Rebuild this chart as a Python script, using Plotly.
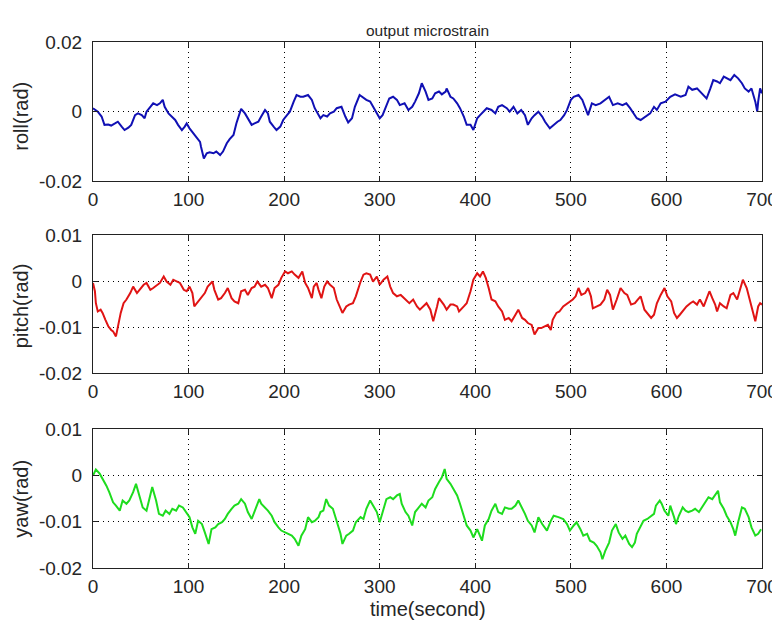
import plotly.graph_objects as go

# ---------------- data ----------------
title_text = "output microstrain"
x_title = "time(second)"
y_titles = ["roll(rad)", "pitch(rad)", "yaw(rad)"]
x_ticks = [0, 100, 200, 300, 400, 500, 600, 700]
y_ticks_roll = [-0.02, 0, 0.02]
y_ticks_other = [-0.02, -0.01, 0, 0.01]

roll_t = [0, 5, 9, 12, 16, 19, 23, 26, 30, 33, 37, 40, 44, 47, 51, 54, 56, 60, 63, 67,
          70, 73, 75, 79, 82, 86, 89, 93, 96, 98, 101, 105, 108, 112, 113, 116, 119, 122, 126, 129,
          133, 136, 140, 143, 147, 150, 154, 155, 159, 162, 166, 169, 173, 176, 180, 183, 185, 189, 192, 196,
          199, 203, 206, 210, 213, 217, 220, 225, 229, 232, 236, 238, 241, 245, 248, 252, 255, 260, 264, 267,
          271, 274, 279, 283, 286, 290, 293, 297, 300, 303, 307, 310, 314, 318, 321, 326, 330, 334, 337, 341,
          344, 348, 351, 355, 358, 362, 365, 369, 370, 374, 377, 381, 384, 388, 391, 395, 398, 402, 405, 409,
          412, 417, 421, 424, 428, 433, 436, 440, 444, 448, 452, 455, 459, 462, 466, 470, 473, 478, 482, 486,
          489, 493, 496, 500, 503, 508, 512, 515, 518, 522, 526, 531, 536, 540, 544, 549, 554, 558, 562, 566,
          569, 573, 578, 583, 587, 590, 594, 599, 604, 609, 615, 620, 623, 627, 632, 635, 639, 642, 646, 649,
          653, 656, 660, 663, 667, 671, 675, 679, 682, 686, 689, 693, 695, 696, 698, 700]
roll_mrad = [1.0, 0.0, -1.4, -3.8, -3.7, -4.0, -3.4, -2.9, -4.3, -5.3, -4.6, -3.8, -1.0, -0.5, -1.0, -1.9, 0.0, 1.4, 2.4, 1.9,
             2.4, 3.4, 1.4, -0.5, -1.4, -2.4, -3.8, -5.3, -4.3, -3.4, -4.8, -6.3, -7.2, -8.7, -10.1, -13.5, -12.0, -11.7, -12.0, -11.5,
             -12.5, -11.5, -9.1, -7.9, -6.7, -3.4, 0.0, 0.8, -0.5, -1.9, -3.8, -3.4, -2.9, -1.4, 0.5, -0.5, -2.9, -4.3, -5.3, -4.3,
             -2.4, -1.0, 0.0, 2.9, 4.8, 4.3, 4.3, 4.8, 3.4, 1.0, -1.0, -1.9, -1.0, -1.4, -0.5, 0.0, 1.0, 1.4, -1.4, -3.1,
             -1.9, 1.4, 4.8, 4.0, 3.4, 2.9, 1.4, -0.5, -1.9, -1.0, 1.9, 3.8, 4.3, 3.4, 1.9, 2.4, 0.5, 1.4, 2.9, 5.3,
             8.2, 5.8, 3.4, 3.8, 5.3, 5.8, 5.0, 5.8, 6.7, 4.3, 3.8, 2.4, 1.0, -1.4, -3.8, -3.8, -5.3, -1.9, -1.0, 0.0,
             1.0, 0.5, -0.5, 1.4, 1.9, 1.0, 0.0, 1.4, -0.5, 0.5, -1.0, -3.8, -1.9, -1.0, 0.0, -1.4, -2.9, -4.8, -3.8, -2.9,
             -2.4, -1.0, 0.5, 3.4, 4.3, 4.8, 3.4, 1.4, -1.0, 2.4, 1.9, 2.4, 3.4, 4.3, 1.9, 2.4, 1.9, 2.4, 1.0, -0.5,
             -1.9, -2.4, -1.4, -0.5, 1.4, 0.5, 2.4, 2.9, 4.3, 5.0, 4.3, 4.8, 7.2, 6.3, 6.7, 5.8, 4.8, 3.8, 6.7, 9.1,
             8.7, 8.2, 10.1, 9.6, 9.1, 10.6, 9.6, 8.2, 6.7, 5.8, 6.7, 2.9, 0.0, 2.9, 6.7, 5.3]

pitch_t = [0, 2, 3, 5, 8, 10, 13, 16, 19, 21, 24, 26, 29, 32, 35, 39, 42, 46, 49, 53,
           56, 60, 63, 67, 70, 74, 77, 81, 84, 88, 91, 95, 98, 101, 104, 106, 110, 113, 117, 120,
           125, 127, 131, 134, 138, 141, 145, 148, 152, 155, 159, 162, 166, 169, 172, 176, 180, 183, 187, 190,
           194, 197, 201, 204, 208, 211, 215, 219, 222, 225, 229, 231, 234, 236, 239, 242, 245, 248, 252, 255,
           259, 261, 265, 268, 272, 275, 280, 283, 286, 290, 293, 297, 300, 304, 308, 311, 314, 318, 322, 327,
           331, 335, 339, 342, 346, 349, 353, 356, 360, 362, 367, 370, 374, 377, 381, 383, 388, 391, 395, 398,
           402, 405, 408, 411, 414, 417, 421, 424, 428, 431, 435, 438, 442, 445, 449, 452, 455, 459, 462, 466,
           469, 473, 476, 479, 481, 485, 488, 492, 495, 499, 502, 505, 508, 511, 515, 518, 521, 523, 527, 531,
           535, 538, 541, 544, 548, 552, 556, 559, 563, 567, 570, 573, 577, 580, 584, 587, 590, 594, 598, 601,
           605, 608, 611, 614, 618, 621, 625, 628, 632, 635, 639, 643, 645, 648, 651, 653, 656, 660, 663, 667,
           670, 674, 677, 680, 684, 686, 689, 691, 693, 696, 698, 700]
pitch_mrad = [-0.4, -2.2, -4.8, -6.6, -6.2, -6.9, -8.4, -9.8, -10.6, -10.9, -12.0, -9.8, -6.9, -4.8, -4.0, -2.6, -1.2, -2.6, -1.9, -0.8,
              -0.4, -1.9, -1.5, -0.8, -0.4, 1.0, -0.1, -0.8, 0.3, -0.1, -0.4, -1.9, -2.2, -1.2, -2.6, -5.5, -4.4, -3.7, -2.6, -1.2,
              -0.1, -1.9, -4.0, -3.7, -2.6, -1.5, -3.7, -4.4, -4.8, -2.2, -1.9, -3.0, -1.5, -1.2, -0.1, -1.2, -0.8, -1.5, -3.7, -1.5,
              -0.8, 0.7, 2.1, 1.7, 2.1, 1.4, 0.7, 2.1, -0.4, -1.5, -3.7, -1.2, -0.4, -1.9, -3.7, -1.2, -0.1, -0.8, -1.5, -4.0,
              -6.2, -6.9, -5.5, -5.1, -4.8, -3.3, -0.1, 1.4, 1.7, 1.4, -0.1, 1.0, -0.8, 0.3, 1.0, -1.2, -2.6, -3.3, -3.0, -4.0,
              -4.8, -4.0, -5.5, -6.2, -5.5, -4.8, -6.2, -8.7, -5.5, -3.7, -5.1, -6.2, -5.1, -5.1, -5.5, -6.6, -5.5, -4.8, -2.2, 0.3,
              1.7, 1.0, 2.1, 0.7, -1.5, -4.0, -4.4, -5.5, -6.6, -8.4, -8.0, -8.7, -7.3, -6.2, -8.0, -8.4, -9.1, -9.5, -11.6, -10.2,
              -10.2, -9.7, -9.5, -10.6, -8.4, -6.9, -6.6, -5.5, -5.1, -4.4, -4.0, -3.3, -1.5, -3.0, -2.6, -1.5, -3.3, -5.9, -5.5, -5.1,
              -4.0, -1.9, -3.0, -6.2, -4.0, -1.5, -2.6, -3.0, -5.1, -4.8, -4.0, -3.3, -6.2, -6.9, -8.0, -7.3, -4.8, -3.0, -1.5, -3.3,
              -4.4, -6.9, -8.0, -7.3, -6.2, -5.5, -4.8, -4.4, -5.1, -4.0, -5.5, -3.3, -2.2, -3.7, -5.1, -6.6, -4.8, -5.5, -5.9, -3.0,
              -2.6, -4.0, -1.9, 0.3, -1.5, -3.0, -5.5, -6.9, -8.7, -5.5, -4.8, -5.1]

yaw_t = [0, 3, 7, 10, 14, 17, 21, 24, 28, 31, 35, 38, 42, 45, 49, 52, 56, 59, 62, 66,
         69, 73, 76, 80, 83, 87, 90, 94, 97, 101, 104, 107, 110, 114, 117, 121, 124, 128, 131, 135,
         138, 141, 145, 148, 152, 155, 159, 162, 166, 169, 174, 176, 180, 183, 187, 190, 194, 197, 201, 204,
         208, 211, 215, 218, 222, 225, 229, 232, 236, 238, 241, 244, 247, 251, 255, 259, 261, 265, 268, 272,
         275, 280, 283, 286, 290, 293, 297, 300, 304, 307, 311, 314, 318, 321, 323, 327, 330, 334, 337, 341,
         344, 348, 351, 355, 358, 362, 365, 368, 370, 374, 377, 381, 384, 388, 391, 395, 398, 402, 405, 407,
         410, 414, 417, 421, 424, 428, 431, 435, 438, 442, 445, 449, 452, 455, 459, 462, 466, 470, 475, 479,
         482, 487, 492, 496, 499, 503, 506, 510, 513, 517, 520, 524, 527, 531, 533, 536, 540, 543, 547, 550,
         554, 557, 561, 564, 567, 569, 573, 576, 580, 583, 587, 589, 593, 595, 598, 602, 604, 608, 610, 613,
         617, 620, 623, 627, 630, 634, 637, 641, 644, 648, 651, 654, 656, 660, 663, 667, 670, 672, 675, 679,
         682, 686, 689, 693, 696, 699]
yaw_mrad = [0.0, 1.3, 0.4, -0.7, -2.2, -3.6, -5.8, -6.5, -7.6, -5.4, -6.1, -5.4, -3.6, -1.8, -4.7, -6.9, -7.6, -5.1, -2.5, -5.4,
            -8.3, -8.7, -7.6, -8.3, -7.2, -7.6, -6.5, -6.9, -7.9, -9.0, -11.2, -12.6, -9.8, -10.5, -12.3, -14.8, -11.6, -11.2, -10.5, -10.1,
            -9.4, -8.3, -7.2, -6.5, -6.1, -5.1, -6.1, -7.9, -9.4, -7.9, -5.1, -6.1, -6.9, -7.6, -8.7, -10.1, -11.2, -11.9, -12.3, -12.6,
            -13.0, -13.7, -15.2, -13.0, -11.6, -9.0, -10.1, -9.8, -9.0, -7.9, -7.6, -5.1, -6.5, -7.2, -9.8, -12.6, -14.8, -13.0, -12.6, -11.9,
            -10.1, -9.0, -9.4, -7.2, -5.4, -6.5, -7.9, -10.1, -7.2, -5.1, -4.7, -5.1, -4.3, -4.0, -6.1, -7.9, -8.7, -10.8, -7.9, -6.9,
            -6.1, -6.9, -5.4, -4.7, -2.9, -1.4, -0.4, 1.4, -0.7, -1.8, -2.9, -4.3, -6.1, -8.7, -10.8, -11.9, -13.4, -11.6, -13.0, -14.1,
            -10.8, -9.4, -7.6, -6.1, -7.9, -8.3, -6.9, -7.2, -7.2, -6.5, -5.4, -6.9, -8.3, -9.8, -10.8, -12.3, -9.0, -10.5, -11.9, -9.8,
            -8.7, -9.0, -9.4, -10.5, -11.9, -10.8, -10.1, -11.6, -13.0, -12.6, -14.1, -14.5, -15.2, -16.6, -18.1, -16.3, -14.5, -11.9, -10.5, -12.3,
            -13.7, -13.0, -14.8, -15.5, -14.5, -12.6, -10.8, -9.8, -9.4, -9.0, -8.3, -6.5, -5.4, -6.1, -7.6, -8.7, -6.5, -9.0, -10.5, -8.7,
            -6.9, -7.6, -7.9, -7.6, -7.2, -7.9, -6.9, -5.8, -4.7, -5.1, -4.3, -3.3, -5.8, -7.2, -8.7, -10.1, -11.6, -13.0, -10.1, -6.9,
            -7.2, -9.0, -11.2, -13.0, -12.6, -11.6]

MRAD = 1e-3
roll = [v * MRAD for v in roll_mrad]
pitch = [v * MRAD for v in pitch_mrad]
yaw = [v * MRAD for v in yaw_mrad]

colors = ["#1010b4", "#e01414", "#1edc1e"]

# ---------------- figure ----------------
fig = go.Figure()
series = [(roll_t, roll), (pitch_t, pitch), (yaw_t, yaw)]
for i, (t, v) in enumerate(series):
    sfx = "" if i == 0 else str(i + 1)
    fig.add_trace(go.Scatter(x=t, y=v, mode="lines",
                             line=dict(color=colors[i], width=2),
                             xaxis="x" + sfx, yaxis="y" + sfx, showlegend=False))

font_main = "Liberation Sans, Arial, sans-serif"
txt_color = "#262626"
tick_font = dict(family=font_main, size=19, color=txt_color)

# the page body adds an 8 px offset; the figure is sized so the plot area
# lands at x 93..762 px and y 42..568 px of the 780x621 window
domains = [(0.7357, 0.9994), (0.3702, 0.6331), (0.0, 0.2637)]
axis_common = dict(showline=True, linecolor="#222222", linewidth=1, mirror="ticks",
                   ticks="inside", ticklen=5, tickcolor="#222222",
                   showgrid=True, gridcolor="#000000", griddash="1px,4px", gridwidth=1,
                   zeroline=False, tickfont=tick_font, automargin=False)

layout = dict(width=772, height=613,
              margin=dict(l=85, r=18, t=34, b=53),
              paper_bgcolor="white", plot_bgcolor="white",
              font=dict(family=font_main, color=txt_color),
              showlegend=False)

annotations = [
    dict(text=title_text, xref="paper", yref="paper", x=0.5, y=1, xanchor="center",
         yanchor="middle", yshift=12, showarrow=False,
         font=dict(family=font_main, size=15.5, color=txt_color)),
    dict(text=x_title, xref="paper", yref="paper", x=0.5, y=0, xanchor="center",
         yanchor="middle", yshift=-41, showarrow=False,
         font=dict(family=font_main, size=20, color=txt_color)),
]
ytitle_shift = [-5, -2, 0]

for i in range(3):
    sfx = "" if i == 0 else str(i + 1)
    xa = dict(axis_common, domain=[0, 1], range=[0, 700], tickvals=x_ticks,
              ticktext=[str(v) for v in x_ticks], anchor="y" + sfx, ticklabelstandoff=1)
    yt = y_ticks_roll if i == 0 else y_ticks_other
    yr = [-0.02, 0.02] if i == 0 else [-0.02, 0.01]
    ya = dict(axis_common, domain=list(domains[i]), range=yr, tickvals=yt,
              ticktext=[("%g" % v) for v in yt], anchor="x" + sfx, ticklabelstandoff=6)
    layout["xaxis" + sfx] = xa
    layout["yaxis" + sfx] = ya
    annotations.append(dict(text=y_titles[i], xref="paper", yref="paper", x=0,
                            y=(domains[i][0] + domains[i][1]) / 2, xanchor="center",
                            yanchor="middle", xshift=-72, yshift=ytitle_shift[i],
                            textangle=-90, showarrow=False,
                            font=dict(family=font_main, size=20, color=txt_color)))

layout["annotations"] = annotations
fig.update_layout(**layout)
fig.write_html("out.html")
